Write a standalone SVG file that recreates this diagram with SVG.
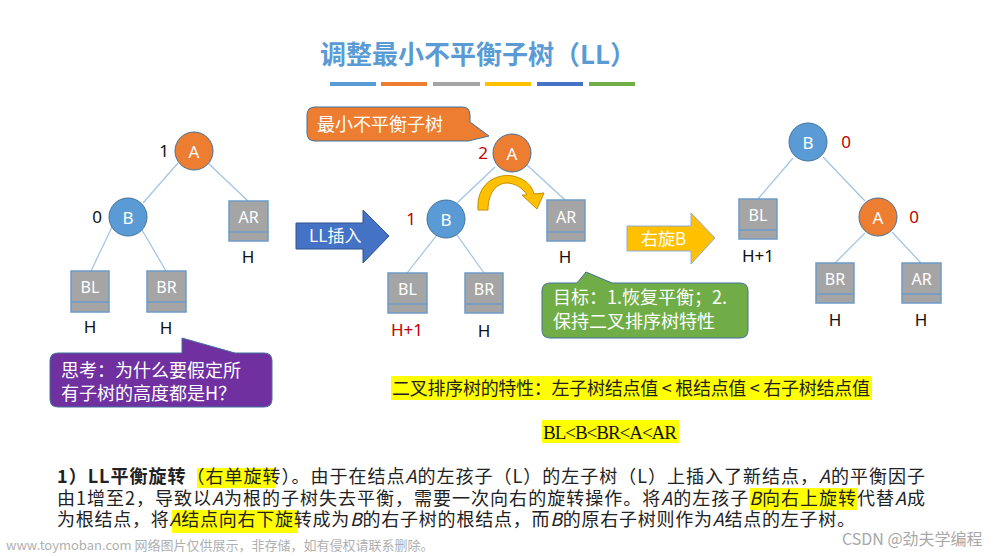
<svg xmlns="http://www.w3.org/2000/svg" width="1000" height="556" viewBox="0 0 1000 556">
<style>
text{font-family:"Noto Sans","Noto Sans CJK SC",sans-serif}
.cjk{font-family:"Noto Sans CJK SC","Noto Sans",sans-serif}
.serif{font-family:"Liberation Serif","Noto Sans CJK SC",serif}
.edge{stroke:#9DC3E6;stroke-width:1.2;fill:none}
.nodeO{fill:#ED7D31;stroke:#41719C;stroke-width:1}
.nodeB{fill:#5B9BD5;stroke:#41719C;stroke-width:1}
.lbl{fill:#fff;font-size:17px;text-anchor:middle;dominant-baseline:central}
.box{fill:#A5A5A5;stroke:#6E9BC8;stroke-width:1.5}
.strip{stroke:#6E9BC8;stroke-width:1.5}
.blbl{fill:#fff;font-size:16px;text-anchor:middle}
.h{fill:#111;font-size:17px;text-anchor:middle}
.red{fill:#C00000;font-size:17px;text-anchor:middle}
.num{fill:#111;font-size:17px;text-anchor:middle}
.call{fill:#fff;font-size:18px}
.body{fill:#222;font-size:18px}
.hl{fill:#FFFF00}
</style>
<rect width="1000" height="556" fill="#fff"/>

<g id="title">
<text x="478" y="64" class="cjk" font-size="26" font-weight="700" fill="#5B9BD5" text-anchor="middle">调整最小不平衡子树（LL）</text>
<rect x="330" y="82" width="46" height="4" fill="#5B9BD5"/>
<rect x="381" y="82" width="46" height="4" fill="#ED7D31"/>
<rect x="433" y="82" width="47" height="4" fill="#A5A5A5"/>
<rect x="485" y="82" width="46" height="4" fill="#FFC000"/>
<rect x="537" y="82" width="46" height="4" fill="#4472C4"/>
<rect x="589" y="82" width="46" height="4" fill="#70AD47"/>
</g>

<g id="connectors">
<line class="edge" x1="178" y1="163" x2="143" y2="203"/>
<line class="edge" x1="208" y1="163" x2="248" y2="201"/>
<line class="edge" x1="113" y1="225" x2="91" y2="271"/>
<line class="edge" x1="142" y1="230" x2="166" y2="271"/>
<line class="edge" x1="495" y1="167" x2="457" y2="203"/>
<line class="edge" x1="527" y1="165" x2="565" y2="200"/>
<line class="edge" x1="437" y1="235" x2="407" y2="273"/>
<line class="edge" x1="457" y1="235" x2="484" y2="273"/>
<line class="edge" x1="793" y1="158" x2="758" y2="199"/>
<line class="edge" x1="823" y1="157" x2="865" y2="201"/>
<line class="edge" x1="865" y1="233" x2="835" y2="263"/>
<line class="edge" x1="892" y1="232" x2="921" y2="263"/>
</g>

<!-- Left tree -->
<g id="L_A"><circle class="nodeO" cx="194" cy="151" r="19"/><text class="lbl" x="194" y="151">A</text><text class="num" x="164" y="157">1</text></g>
<g id="L_B"><circle class="nodeB" cx="128" cy="217" r="19"/><text class="lbl" x="128" y="217">B</text><text class="num" x="97" y="223">0</text></g>
<g id="L_AR"><rect class="box" x="229" y="201" width="39" height="40"/><line class="strip" x1="229" y1="232" x2="268" y2="232"/><text class="blbl" x="248.5" y="223">AR</text><text class="h" x="248" y="263">H</text></g>
<g id="L_BL"><rect class="box" x="71" y="271" width="38" height="41"/><line class="strip" x1="71" y1="302" x2="109" y2="302"/><text class="blbl" x="90" y="293">BL</text><text class="h" x="90" y="333">H</text></g>
<g id="L_BR"><rect class="box" x="147" y="271" width="39" height="41"/><line class="strip" x1="147" y1="302" x2="186" y2="302"/><text class="blbl" x="166.5" y="293">BR</text><text class="h" x="166" y="334">H</text></g>

<g id="callout_think">
<path d="M 58 353 H 182 V 338 L 235 353 H 264 Q 272 353 272 361 V 399 Q 272 407 264 407 H 58 Q 50 407 50 399 V 361 Q 50 353 58 353 Z" fill="#7030A0" stroke="#41719C" stroke-width="1"/>
<text class="call cjk" x="61" y="377" font-size="19">思考：为什么要假定所</text>
<text class="call cjk" x="61" y="400" font-size="19">有子树的高度都是H？</text>
</g>

<g id="arrow_LL">
<path d="M 296 223 H 363 V 210 L 389 236 L 363 263 V 249 H 296 Z" fill="#4472C4" stroke="#2F528F" stroke-width="1"/>
<text x="309" y="242" class="cjk" font-size="17" fill="#fff">LL插入</text>
</g>

<!-- Middle tree -->
<g id="callout_min">
<path d="M 315 107 H 462 Q 470 107 470 115 V 122 L 489 136 L 468 141 H 315 Q 307 141 307 133 V 115 Q 307 107 315 107 Z" fill="#ED7D31" stroke="#41719C" stroke-width="1"/>
<text class="call cjk" x="317" y="131" font-size="19">最小不平衡子树</text>
</g>
<g id="M_A"><circle class="nodeO" cx="512" cy="153" r="19"/><text class="lbl" x="512" y="153">A</text><text class="red" x="483" y="159">2</text></g>
<g id="M_B"><circle class="nodeB" cx="446" cy="219" r="19"/><text class="lbl" x="446" y="219">B</text><text class="red" x="411" y="225">1</text></g>
<g id="M_AR"><rect class="box" x="547" y="200" width="38" height="41"/><line class="strip" x1="547" y1="232" x2="585" y2="232"/><text class="blbl" x="566" y="223">AR</text><text class="h" x="565" y="263">H</text></g>
<g id="M_BL"><rect class="box" x="388" y="273" width="39" height="40"/><line class="strip" x1="388" y1="304" x2="427" y2="304"/><text class="blbl" x="407.5" y="295">BL</text><text class="red" x="407" y="336">H+1</text></g>
<g id="M_BR"><rect class="box" x="465" y="273" width="38" height="40"/><line class="strip" x1="465" y1="304" x2="503" y2="304"/><text class="blbl" x="484" y="295">BR</text><text class="h" x="484" y="337">H</text></g>
<g id="rot_arrow">
<path d="M 478 210 C 476 184, 496 173, 513 176 C 526 179, 532 186, 534 194 L 544 193 L 537 209 L 522 195 L 527 195 C 523 188, 515 183, 506 183 C 494 184, 488 196, 488 210 Z" fill="#FFC000" stroke="#BF9000" stroke-width="1"/>
</g>

<g id="callout_goal">
<path d="M 550 283 H 577 L 586 272 L 612 283 H 740 Q 748 283 748 291 V 330 Q 748 338 740 338 H 550 Q 542 338 542 330 V 291 Q 542 283 550 283 Z" fill="#70AD47" stroke="#41719C" stroke-width="1"/>
<text class="call cjk" x="553" y="304" font-size="19">目标：1.恢复平衡；2.</text>
<text class="call cjk" x="553" y="328" font-size="19">保持二叉排序树特性</text>
</g>

<g id="arrow_rot">
<path d="M 627 226 H 691 V 213 L 715 238 L 691 264 V 251 H 627 Z" fill="#FFC000" stroke="#8FAADC" stroke-width="1"/>
<text x="641" y="245" class="cjk" font-size="17" fill="#fff">右旋B</text>
</g>

<!-- Right tree -->
<g id="R_B"><circle class="nodeB" cx="808" cy="142" r="19"/><text class="lbl" x="808" y="142">B</text><text class="red" x="846" y="148">0</text></g>
<g id="R_BL"><rect class="box" x="739" y="199" width="38" height="40"/><line class="strip" x1="739" y1="230" x2="777" y2="230"/><text class="blbl" x="758" y="221">BL</text><text class="h" x="758" y="262">H+1</text></g>
<g id="R_A"><circle class="nodeO" cx="878" cy="217" r="19"/><text class="lbl" x="878" y="217">A</text><text class="red" x="914" y="223">0</text></g>
<g id="R_BR"><rect class="box" x="816" y="263" width="38" height="40"/><line class="strip" x1="816" y1="294" x2="854" y2="294"/><text class="blbl" x="835" y="285">BR</text><text class="h" x="835" y="326">H</text></g>
<g id="R_AR"><rect class="box" x="902" y="263" width="39" height="40"/><line class="strip" x1="902" y1="294" x2="941" y2="294"/><text class="blbl" x="921.5" y="285">AR</text><text class="h" x="921" y="326">H</text></g>

<g id="property">
<rect class="hl" x="391" y="376" width="481" height="24"/>
<text x="392" y="395" class="cjk" font-size="18" fill="#222" textLength="478" lengthAdjust="spacing">二叉排序树的特性：左子树结点值 &lt; 根结点值 &lt; 右子树结点值</text>
<rect class="hl" x="542" y="420" width="137" height="23"/>
<text x="543" y="439" class="serif" font-size="19" fill="#111" textLength="134" lengthAdjust="spacing">BL&lt;B&lt;BR&lt;A&lt;AR</text>
</g>

<g id="explanation">
<rect class="hl" x="197" y="468" width="78" height="20"/>
<rect class="hl" x="750" y="488" width="107" height="22"/>
<rect class="hl" x="172" y="510" width="126" height="23"/>
<text class="body cjk" x="57" y="483" textLength="868" lengthAdjust="spacing"><tspan font-weight="700">1）LL平衡旋转</tspan>（右单旋转）。由于在结点<tspan font-style="italic">A</tspan>的左孩子（L）的左子树（L）上插入了新结点，<tspan font-style="italic">A</tspan>的平衡因子</text>
<text class="body cjk" x="57" y="505" textLength="868" lengthAdjust="spacing">由1增至2，导致以<tspan font-style="italic">A</tspan>为根的子树失去平衡，需要一次向右的旋转操作。将<tspan font-style="italic">A</tspan>的左孩子<tspan font-style="italic">B</tspan>向右上旋转代替<tspan font-style="italic">A</tspan>成</text>
<text class="body cjk" x="57" y="526" textLength="798" lengthAdjust="spacing">为根结点，将<tspan font-style="italic">A</tspan>结点向右下旋转成为<tspan font-style="italic">B</tspan>的右子树的根结点，而<tspan font-style="italic">B</tspan>的原右子树则作为<tspan font-style="italic">A</tspan>结点的左子树。</text>
</g>

<g id="watermarks">
<text x="6" y="550" class="cjk" font-size="13" fill="#B0B0B0">www.toymoban.com 网络图片仅供展示，非存储，如有侵权请联系删除。</text>
<text x="842" y="545" class="cjk" font-size="16" fill="#A8A8A8">CSDN @劲夫学编程</text>
</g>
</svg>
